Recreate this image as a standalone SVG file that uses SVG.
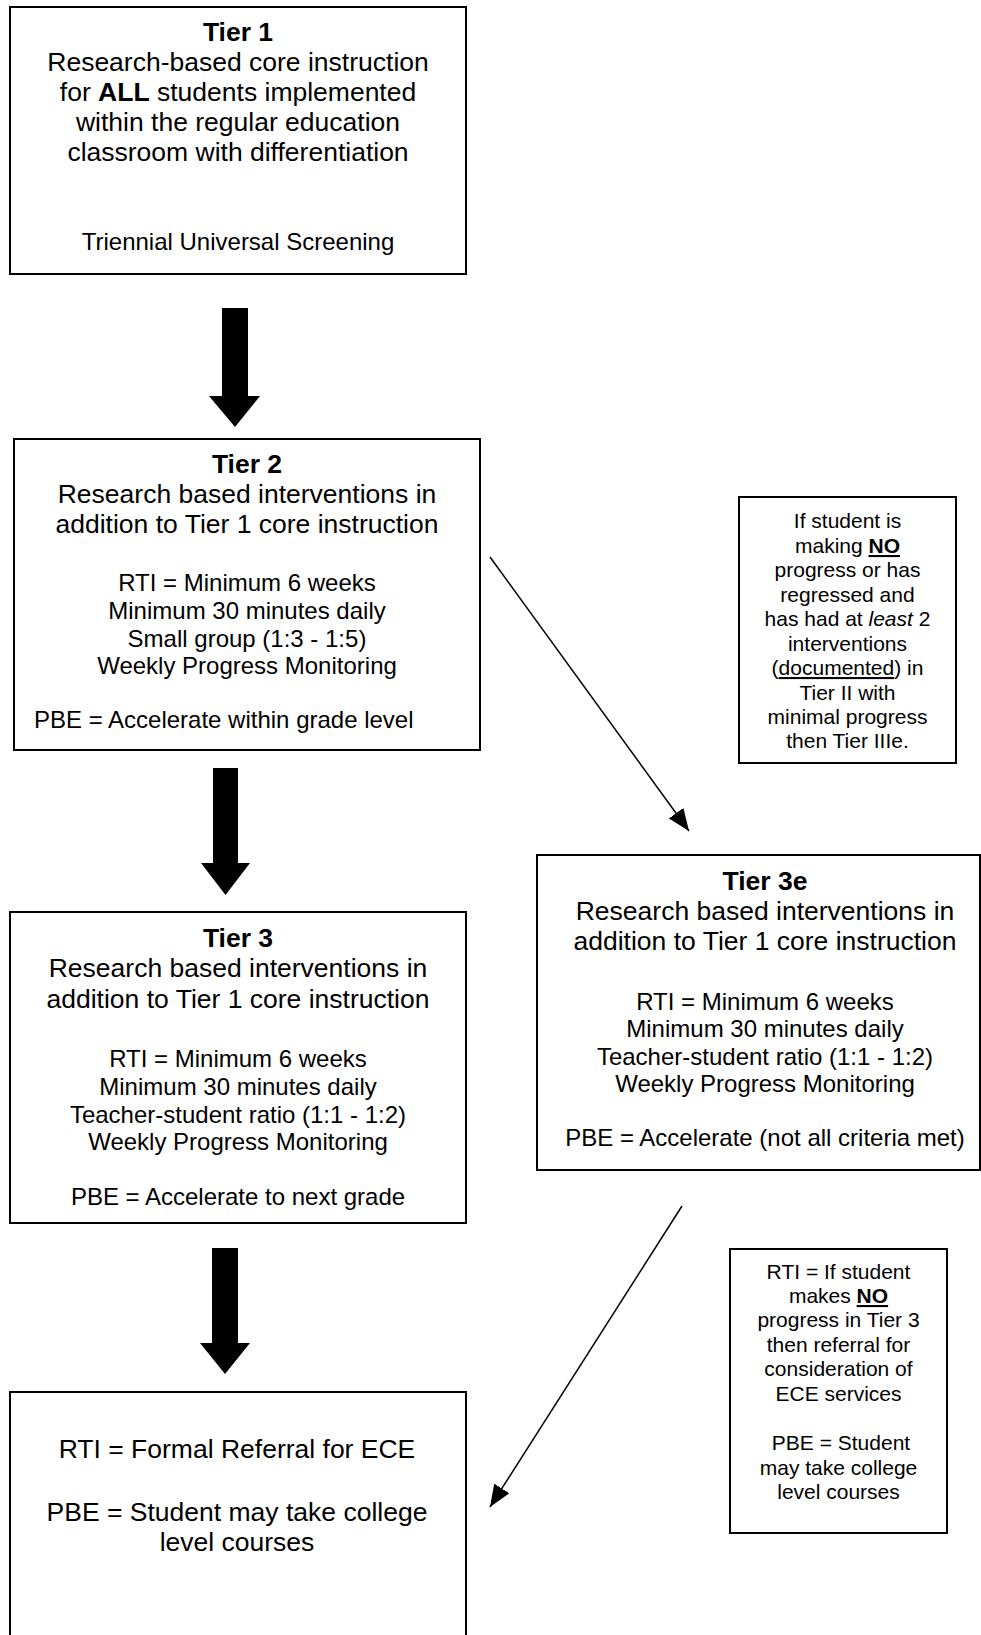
<svg xmlns="http://www.w3.org/2000/svg" width="981" height="1635" viewBox="0 0 981 1635">
<style>
.box{fill:#fff;stroke:#000;stroke-width:2}
.t{font-family:"Liberation Sans",Arial,Helvetica,sans-serif;fill:#000;text-anchor:middle}
.h{font-size:26.5px}
.m{font-size:24px}
.s{font-size:21px}
.bd{font-weight:bold}
.u{text-decoration:underline}
.it{font-style:italic}
.blk{fill:#000;stroke:none}
.ln{stroke:#000;stroke-width:1.5;fill:none}
</style>
<defs>
<marker id="ah" viewBox="0 0 22 18" refX="22" refY="9" markerWidth="22" markerHeight="18" markerUnits="userSpaceOnUse" orient="auto">
<path d="M0,0 L22,9 L0,18 z" fill="#000"/>
</marker>
</defs>
<rect width="981" height="1635" fill="#fff"/>
<g id="connectors">
<polygon class="blk" points="222,308 248,308 248,396 260,396 235,427 209,396 222,396"/>
<polygon class="blk" points="213,768 238,768 238,863 250,863 225.5,895 201,863 213,863"/>
<polygon class="blk" points="212,1248 238,1248 238,1343 250,1343 225,1374 200,1343 212,1343"/>
<line class="ln" x1="490" y1="557" x2="689" y2="831" marker-end="url(#ah)"/>
<line class="ln" x1="682" y1="1206" x2="490" y2="1507" marker-end="url(#ah)"/>
</g>
<g id="tier1">
<rect class="box" x="10" y="7" width="456" height="267"/>
<text class="t h bd" x="238" y="41">Tier 1</text>
<text class="t h" x="238" y="71">Research-based core instruction</text>
<text class="t h" x="238" y="101">for <tspan class="bd">ALL</tspan> students implemented</text>
<text class="t h" x="238" y="131">within the regular education</text>
<text class="t h" x="238" y="161">classroom with differentiation</text>
<text class="t m" x="238" y="250">Triennial Universal Screening</text>
</g>
<g id="tier2">
<rect class="box" x="14" y="439" width="466" height="311"/>
<text class="t h bd" x="247" y="473">Tier 2</text>
<text class="t h" x="247" y="503">Research based interventions in</text>
<text class="t h" x="247" y="533">addition to Tier 1 core instruction</text>
<text class="t m" x="247" y="591">RTI = Minimum 6 weeks</text>
<text class="t m" x="247" y="619">Minimum 30 minutes daily</text>
<text class="t m" x="247" y="647">Small group (1:3 - 1:5)</text>
<text class="t m" x="247" y="674">Weekly Progress Monitoring</text>
<text class="t m" x="34" y="728" style="text-anchor:start">PBE = Accelerate within grade level</text>
</g>
<g id="note1">
<rect class="box" x="739" y="497" width="217" height="266"/>
<text class="t s" x="847.5" y="528">If student is</text>
<text class="t s" x="847.5" y="553">making <tspan class="bd u">NO</tspan></text>
<text class="t s" x="847.5" y="577">progress or has</text>
<text class="t s" x="847.5" y="602">regressed and</text>
<text class="t s" x="847.5" y="626">has had at <tspan class="it">least</tspan> 2</text>
<text class="t s" x="847.5" y="651">interventions</text>
<text class="t s" x="847.5" y="675">(<tspan class="u">documented</tspan>) in</text>
<text class="t s" x="847.5" y="700">Tier II with</text>
<text class="t s" x="847.5" y="724">minimal progress</text>
<text class="t s" x="847.5" y="748">then Tier IIIe.</text>
</g>
<g id="tier3e">
<rect class="box" x="537" y="855" width="443" height="315"/>
<text class="t h bd" x="765" y="890">Tier 3e</text>
<text class="t h" x="765" y="920">Research based interventions in</text>
<text class="t h" x="765" y="950">addition to Tier 1 core instruction</text>
<text class="t m" x="765" y="1010">RTI = Minimum 6 weeks</text>
<text class="t m" x="765" y="1037">Minimum 30 minutes daily</text>
<text class="t m" x="765" y="1065">Teacher-student ratio (1:1 - 1:2)</text>
<text class="t m" x="765" y="1092">Weekly Progress Monitoring</text>
<text class="t m" x="765" y="1146">PBE = Accelerate (not all criteria met)</text>
</g>
<g id="tier3">
<rect class="box" x="10" y="912" width="456" height="311"/>
<text class="t h bd" x="238" y="947">Tier 3</text>
<text class="t h" x="238" y="977">Research based interventions in</text>
<text class="t h" x="238" y="1008">addition to Tier 1 core instruction</text>
<text class="t m" x="238" y="1067">RTI = Minimum 6 weeks</text>
<text class="t m" x="238" y="1095">Minimum 30 minutes daily</text>
<text class="t m" x="238" y="1123">Teacher-student ratio (1:1 - 1:2)</text>
<text class="t m" x="238" y="1150">Weekly Progress Monitoring</text>
<text class="t m" x="238" y="1205">PBE = Accelerate to next grade</text>
</g>
<g id="note2">
<rect class="box" x="730" y="1249" width="217" height="284"/>
<text class="t s" x="838.5" y="1279">RTI = If student</text>
<text class="t s" x="838.5" y="1303">makes <tspan class="bd u">NO</tspan></text>
<text class="t s" x="838.5" y="1327">progress in Tier 3</text>
<text class="t s" x="838.5" y="1352">then referral for</text>
<text class="t s" x="838.5" y="1376">consideration of</text>
<text class="t s" x="838.5" y="1401">ECE services</text>
<text class="t s" x="841" y="1450">PBE = Student</text>
<text class="t s" x="838.5" y="1475">may take college</text>
<text class="t s" x="838.5" y="1499">level courses</text>
</g>
<g id="final">
<rect class="box" x="10" y="1392" width="456" height="260"/>
<text class="t h" x="237" y="1458">RTI = Formal Referral for ECE</text>
<text class="t h" x="237" y="1521">PBE = Student may take college</text>
<text class="t h" x="237" y="1551">level courses</text>
</g>
</svg>
